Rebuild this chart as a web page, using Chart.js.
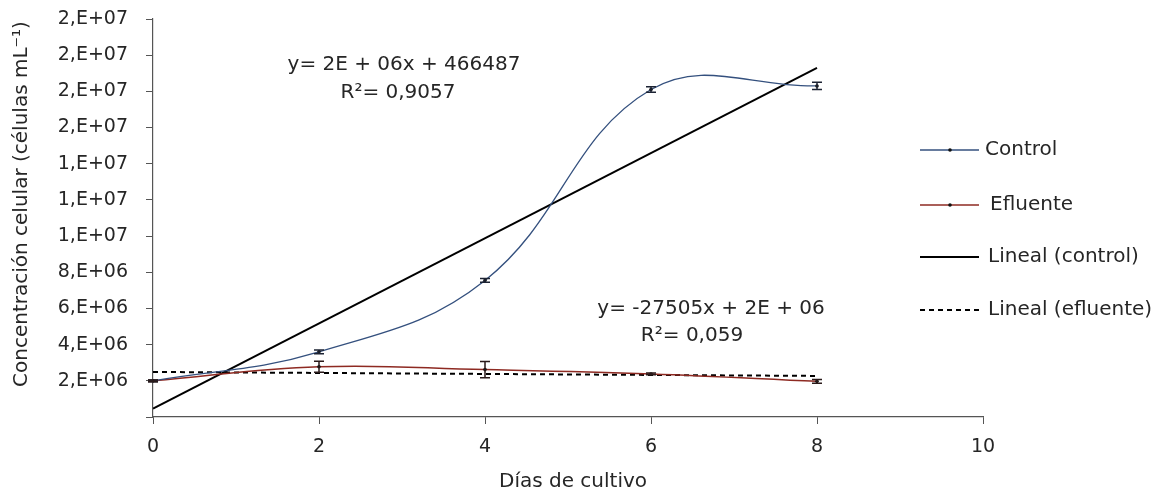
<!DOCTYPE html>
<html>
<head>
<meta charset="utf-8">
<script src="https://cdn.jsdelivr.net/npm/chart.js@4"></script>
<style>
  html, body { margin: 0; padding: 0; background: #fff; }
  #wrap { width: 1168px; height: 494px; }
</style>
</head>
<body>
<div id="wrap"><canvas id="myChart"></canvas></div>
<script>
// data
var days = [0, 2, 4, 6, 8];
var control = [2.0e6, 3.6e6, 7.55e6, 18.1e6, 18.3e6];
var controlErr = [0.05e6, 0.1e6, 0.1e6, 0.15e6, 0.2e6];
var efluente = [2.0e6, 2.78e6, 2.62e6, 2.38e6, 1.97e6];
var efluenteErr = [0.05e6, 0.3e6, 0.45e6, 0.05e6, 0.1e6];

// trend lines (ends at day 0 and day 8)
var fitDays = [0, 8];
var controlFit = [466487, 19.3e6];
var efluenteFit = [2.49e6, 2.27e6];

var legendLabels = ["Control", "Efluente", "Lineal (control)", "Lineal (efluente)"];
var xTitle = "Días de cultivo";
var yTitle = "Concentración celular (células mL⁻¹)";

var FONT = "'DejaVu Sans', Verdana, sans-serif";
var TEXT = "#262626";
var BLUE = "#34507e";
var RED = "#8e2a22";

var toPoints = (xs, ys) => xs.map((x, i) => ({ x: x, y: ys[i] }));

// excel style "0,E+00" label
var sciLabel = v => {
  if (v === 0) return "";
  var parts = v.toExponential(0).split("e");
  var exp = parseInt(parts[1]);
  var e = (exp < 10 ? "0" : "") + exp;
  return parts[0] + ",E+" + e;
};

var extras = {
  id: "extras",
  afterDatasetsDraw(chart) {
    var ctx = chart.ctx;
    var xs = chart.scales.x, ys = chart.scales.y;
    // error bars
    var drawErr = (vals, errs, color) => {
      ctx.save();
      ctx.strokeStyle = color;
      ctx.lineWidth = 1.5;
      vals.forEach((v, i) => {
        var px = xs.getPixelForValue(days[i]);
        var top = ys.getPixelForValue(v + errs[i]);
        var bot = ys.getPixelForValue(v - errs[i]);
        ctx.beginPath();
        ctx.moveTo(px, top); ctx.lineTo(px, bot);
        ctx.moveTo(px - 5, top); ctx.lineTo(px + 5, top);
        ctx.moveTo(px - 5, bot); ctx.lineTo(px + 5, bot);
        ctx.stroke();
      });
      ctx.restore();
    };
    drawErr(control, controlErr, "#1c2333");
    drawErr(efluente, efluenteErr, "#2a1a1a");
  },
  afterDraw(chart) {
    var ctx = chart.ctx;
    var area = chart.chartArea;
    ctx.save();
    ctx.fillStyle = TEXT;
    ctx.font = "20px " + FONT;
    ctx.textBaseline = "middle";
    ctx.textAlign = "center";

    // axis titles
    ctx.fillText(xTitle, (area.left + area.right) / 2 + 5, 482);
    ctx.save();
    ctx.translate(22, 204);
    ctx.rotate(-Math.PI / 2);
    ctx.fillText(yTitle, 0, 0);
    ctx.restore();

    // equations
    ctx.fillText("y= 2E + 06x + 466487", 404, 65);
    ctx.fillText("R²= 0,9057", 398, 93);
    ctx.fillText("y= -27505x + 2E + 06", 711, 309);
    ctx.fillText("R²= 0,059", 692, 336);

    // legend
    ctx.textAlign = "left";
    var rows = [150, 205, 257, 310];
    var colors = [BLUE, RED, "#000", "#000"];
    var textX = [985, 990, 988, 988];
    rows.forEach((y, i) => {
      ctx.save();
      ctx.strokeStyle = colors[i];
      ctx.lineWidth = i < 2 ? 1.5 : 2;
      if (i == 3) ctx.setLineDash([5, 4]);
      ctx.beginPath();
      ctx.moveTo(920, y); ctx.lineTo(979, y);
      ctx.stroke();
      ctx.restore();
      if (i < 2) {
        ctx.beginPath();
        ctx.fillStyle = "#111";
        ctx.arc(950, y, 1.8, 0, Math.PI * 2);
        ctx.fill();
        ctx.fillStyle = TEXT;
      }
      ctx.fillText(legendLabels[i], textX[i], y);
    });
    ctx.restore();
  }
};

var ctx = document.getElementById("myChart");
var myChart = new Chart(ctx, {
  type: "scatter",
  data: {
    datasets: [
      {
        label: legendLabels[0],
        data: toPoints(days, control),
        showLine: true,
        borderColor: BLUE,
        backgroundColor: "#111",
        borderWidth: 1.3,
        pointRadius: 1.8,
        pointBorderWidth: 0,
        tension: 0.4
      },
      {
        label: legendLabels[1],
        data: toPoints(days, efluente),
        showLine: true,
        borderColor: RED,
        backgroundColor: "#111",
        borderWidth: 1.5,
        pointRadius: 1.8,
        pointBorderWidth: 0,
        tension: 0.4
      },
      {
        label: legendLabels[2],
        data: toPoints(fitDays, controlFit),
        showLine: true,
        borderColor: "#000",
        borderWidth: 2,
        pointRadius: 0
      },
      {
        label: legendLabels[3],
        data: toPoints(fitDays, efluenteFit),
        showLine: true,
        borderColor: "#000",
        borderWidth: 2,
        borderDash: [5, 4],
        pointRadius: 0
      }
    ]
  },
  options: {
    responsive: true,
    maintainAspectRatio: false,
    animation: false,
    layout: { padding: { left: 0, top: 19, right: 185, bottom: 0 } },
    plugins: {
      legend: { display: false },
      tooltip: { enabled: false }
    },
    scales: {
      x: {
        type: "linear",
        min: 0,
        max: 10,
        afterFit: s => { s.height = 77; s.paddingLeft = 0; s.paddingRight = 0; },
        ticks: { stepSize: 2, color: TEXT, padding: 12, font: { family: FONT, size: 19 } },
        grid: { drawOnChartArea: false, tickLength: 7, color: "#555" },
        border: { color: "#555", width: 1.2 }
      },
      y: {
        min: 0,
        max: 22e6,
        afterFit: s => { s.width = 153; s.paddingTop = 0; s.paddingBottom = 0; },
        ticks: {
          stepSize: 2e6,
          color: TEXT,
          padding: 18,
          font: { family: FONT, size: 19 },
          callback: v => sciLabel(v)
        },
        grid: { drawOnChartArea: false, tickLength: 7, color: "#555" },
        border: { color: "#555", width: 1.2 }
      }
    }
  },
  plugins: [extras]
});
</script>
</body>
</html>
